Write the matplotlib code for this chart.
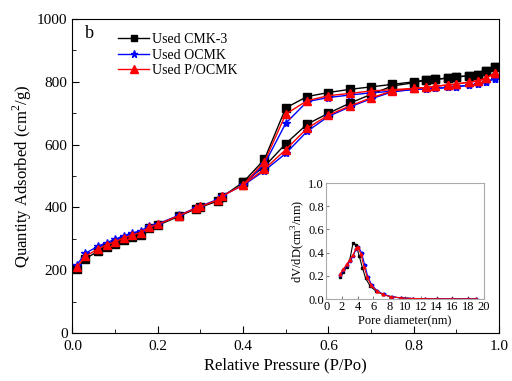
import matplotlib
matplotlib.use('Agg')
import matplotlib.pyplot as plt
from matplotlib.ticker import MultipleLocator

plt.rcParams['font.family'] = 'Liberation Serif'
plt.rcParams['mathtext.fontset'] = 'custom'
plt.rcParams['mathtext.rm'] = 'Liberation Serif'

# isotherm, adsorption branch
p_ads = [0.01, 0.03, 0.06, 0.08, 0.10, 0.12, 0.14, 0.16, 0.18, 0.20, 0.25, 0.29,
         0.30, 0.34, 0.35, 0.40, 0.45, 0.50, 0.55, 0.60, 0.65, 0.70, 0.75, 0.80,
         0.83, 0.85, 0.88, 0.90, 0.93, 0.95, 0.97, 0.99]
cmk_ads = [203, 237, 260, 273, 283, 295, 305, 313, 333, 343, 372, 396,
           401, 420, 433, 480, 530, 603, 665, 700, 732, 760, 787, 797,
           806, 808, 812, 816, 819, 823, 836, 848]
ocmk_ads = [216, 254, 276, 288, 298, 310, 318, 326, 340, 348, 375, 399,
            404, 425, 437, 470, 517, 572, 642, 690, 720, 746, 768, 776,
            778, 779, 782, 785, 789, 793, 800, 810]
pocmk_ads = [209, 244, 268, 281, 291, 303, 312, 320, 337, 346, 374, 398,
             403, 423, 435, 472, 522, 584, 652, 694, 723, 749, 771, 779,
             782, 786, 790, 793, 799, 803, 812, 828]

# desorption branch
p_des = [0.99, 0.97, 0.95, 0.93, 0.90, 0.88, 0.85, 0.83, 0.80, 0.75, 0.70,
         0.65, 0.60, 0.55, 0.50, 0.45, 0.40]
cmk_des = [848, 836, 823, 819, 816, 812, 808, 806, 800, 792, 784,
           776, 766, 753, 717, 553, 480]
ocmk_des = [810, 800, 793, 789, 785, 782, 779, 778, 776, 770, 765,
            758, 750, 737, 668, 538, 470]
pocmk_des = [828, 812, 803, 799, 793, 790, 786, 782, 779, 775, 771,
             763, 756, 740, 697, 545, 472]

# pore size distribution (inset)
d_cmk = [1.8, 2.2, 2.6, 3.0, 3.4, 3.8, 4.2, 4.6, 5.0, 5.6, 6.3, 7.2, 8.2,
         9.5, 11, 12.5, 14, 16, 18, 19]
v_cmk = [0.19, 0.23, 0.28, 0.34, 0.48, 0.47, 0.37, 0.27, 0.18, 0.11, 0.07,
         0.04, 0.02, 0.01, 0.005, 0.003, 0.002, 0.002, 0.001, 0.001]
d_ocmk = [1.8, 2.2, 2.6, 3.0, 3.4, 3.8, 4.1, 4.5, 4.9, 5.3, 5.8, 6.5, 7.3,
          8.3, 9.5, 11, 12.5, 14, 16, 18, 19]
v_ocmk = [0.21, 0.25, 0.29, 0.33, 0.37, 0.43, 0.45, 0.40, 0.29, 0.19, 0.12,
          0.07, 0.04, 0.02, 0.01, 0.005, 0.003, 0.003, 0.002, 0.001, 0.001]
d_pocmk = [1.8, 2.2, 2.6, 3.0, 3.4, 3.8, 4.0, 4.4, 4.8, 5.2, 5.7, 6.4, 7.2,
           8.2, 9.5, 11, 12.5, 14, 16, 18, 19]
v_pocmk = [0.22, 0.26, 0.30, 0.34, 0.38, 0.44, 0.45, 0.39, 0.28, 0.19, 0.12,
           0.07, 0.04, 0.02, 0.01, 0.005, 0.003, 0.002, 0.002, 0.001, 0.001]

fig = plt.figure(figsize=(5.12, 3.81), dpi=100)
ax = fig.add_axes([0.1416, 0.126, 0.833, 0.824])

ax.plot(p_ads, cmk_ads, 'k-s', ms=5.5, lw=1, label='Used CMK-3')
ax.plot(p_des, cmk_des, 'k-s', ms=5.5, lw=1)
ax.plot(p_ads, ocmk_ads, 'b-*', ms=6, lw=1, label='Used OCMK')
ax.plot(p_des, ocmk_des, 'b-*', ms=6, lw=1)
ax.plot(p_ads, pocmk_ads, 'r-^', ms=6, lw=1, label='Used P/OCMK')
ax.plot(p_des, pocmk_des, 'r-^', ms=6, lw=1)

ax.set_xlim(0, 1.0)
ax.set_ylim(0, 1000)
ax.xaxis.set_major_locator(MultipleLocator(0.2))
ax.xaxis.set_minor_locator(MultipleLocator(0.1))
ax.yaxis.set_major_locator(MultipleLocator(200))
ax.yaxis.set_minor_locator(MultipleLocator(100))
ax.xaxis.set_major_formatter(matplotlib.ticker.FormatStrFormatter('%.1f'))
ax.tick_params(which='both', direction='in', labelsize=11)
ax.tick_params(axis='x', pad=5)
ax.tick_params(which='major', length=5)
ax.tick_params(which='minor', length=3)
ax.set_xlabel('Relative Pressure (P/Po)', fontsize=12, labelpad=3)
ax.set_ylabel('Quantity Adsorbed (cm$^2$/g)', fontsize=12, labelpad=2)
ax.text(0.03, 0.955, 'b', transform=ax.transAxes, fontsize=13, va='center')
ax.legend(loc='upper left', bbox_to_anchor=(0.078, 0.995), frameon=False,
          fontsize=10, handlelength=2.2, handletextpad=0.2, labelspacing=0.18,
          markerscale=0.85)

ins = fig.add_axes([0.637, 0.215, 0.308, 0.3045])
ins.plot(d_cmk, v_cmk, 'k-s', ms=2, lw=0.8)
ins.plot(d_ocmk, v_ocmk, 'b-*', ms=2.5, lw=0.8)
ins.plot(d_pocmk, v_pocmk, 'r-^', ms=2, lw=0.8)
ins.set_xlim(0, 20)
ins.set_ylim(0, 1.0)
ins.xaxis.set_major_locator(MultipleLocator(2))
ins.yaxis.set_major_locator(MultipleLocator(0.2))
ins.yaxis.set_major_formatter(matplotlib.ticker.FormatStrFormatter('%.1f'))
ins.tick_params(direction='in', labelsize=9, length=2, pad=1.5, color='gray')
for s in ins.spines.values():
    s.set_color('#aaaaaa')
    s.set_linewidth(0.8)
ins.set_xlabel('Pore diameter(nm)', fontsize=9, labelpad=1)
ins.set_ylabel('dV/dD(cm$^3$/nm)', fontsize=9, labelpad=1)

fig.savefig('out.png', dpi=100)
